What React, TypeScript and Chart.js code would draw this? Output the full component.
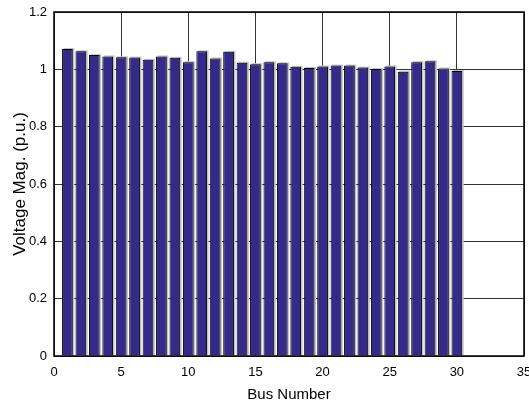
import React, { useEffect, useRef } from "react";
import { Chart, registerables } from "chart.js";

Chart.register(...registerables);

// Bus numbers and per-unit voltage magnitudes
const busNumbers = [
  1, 2, 3, 4, 5, 6, 7, 8, 9, 10, 11, 12, 13, 14, 15,
  16, 17, 18, 19, 20, 21, 22, 23, 24, 25, 26, 27, 28, 29, 30,
];
const voltageMag = [
  1.071, 1.063, 1.05, 1.045, 1.042, 1.041, 1.033, 1.045, 1.04, 1.025,
  1.063, 1.038, 1.061, 1.023, 1.018, 1.025, 1.021, 1.009, 1.005, 1.01,
  1.013, 1.013, 1.006, 1.001, 1.01, 0.992, 1.025, 1.028, 1.003, 0.994,
];
const xTicks = [0, 5, 10, 15, 20, 25, 30, 35];
const yTicks = [0, 0.2, 0.4, 0.6, 0.8, 1, 1.2];

const FONT = "'Liberation Sans', Arial, sans-serif";

// Light grey offset behind each bar, and a black frame round the plot box
const barShadow = {
  id: "barShadow",
  beforeDatasetsDraw(chart: any) {
    const ctx = chart.ctx;
    const meta = chart.getDatasetMeta(0);
    ctx.save();
    ctx.fillStyle = "#c4c4c4";
    meta.data.forEach((bar: any) => {
      const { x, y, width, base } = bar.getProps(["x", "y", "width", "base"], true);
      ctx.fillRect(x - width / 2 + 1.5, y - 1, width, base - y + 1);
    });
    ctx.restore();
  },
  afterDraw(chart: any) {
    const { left, right, top, bottom } = chart.chartArea;
    const ctx = chart.ctx;
    ctx.save();
    ctx.strokeStyle = "#000";
    ctx.lineWidth = 1.5;
    ctx.strokeRect(left, top, right - left, bottom - top);
    ctx.restore();
  },
};

export default function App() {
  const canvasRef = useRef<HTMLCanvasElement | null>(null);

  useEffect(() => {
    document.body.style.margin = "0";
    const canvas = canvasRef.current;
    if (!canvas) return;
    const chart = new Chart(canvas, {
      type: "bar",
      data: {
        datasets: [
          {
            data: busNumbers.map((b, i) => ({ x: b, y: voltageMag[i] })),
            backgroundColor: "#35298a",
            borderColor: "#000000",
            borderWidth: 1,
            barPercentage: 0.8,
            categoryPercentage: 1,
          },
        ],
      },
      options: {
        animation: false,
        responsive: false,
        maintainAspectRatio: false,
        layout: { padding: { top: 12, right: 5, left: 0, bottom: 0 } },
        plugins: { legend: { display: false }, tooltip: { enabled: false } },
        scales: {
          x: {
            type: "linear",
            min: 0,
            max: 35,
            offset: false,
            afterBuildTicks(scale: any) {
              scale.ticks = xTicks.map((v) => ({ value: v }));
            },
            afterFit(scale: any) {
              scale.height = 48;
              scale.paddingLeft = 0;
              scale.paddingRight = 0;
            },
            grid: { color: "#333333", lineWidth: 1, drawTicks: false, offset: false },
            border: { display: false },
            ticks: {
              padding: 9,
              color: "#000",
              font: { family: FONT, size: 13 },
              maxRotation: 0,
              autoSkip: false,
            },
            title: {
              display: true,
              text: "Bus Number",
              color: "#000",
              font: { family: FONT, size: 15 },
              padding: { top: 0, bottom: 0 },
            },
          },
          y: {
            min: 0,
            max: 1.2,
            afterBuildTicks(scale: any) {
              scale.ticks = yTicks.map((v) => ({ value: v }));
            },
            afterFit(scale: any) {
              scale.width = 54;
              scale.paddingTop = 0;
              scale.paddingBottom = 0;
            },
            grid: { color: "#333333", lineWidth: 1, drawTicks: false },
            border: { display: false },
            ticks: {
              padding: 7,
              color: "#000",
              font: { family: FONT, size: 13 },
              callback: (v: any) => String(Math.round(Number(v) * 10) / 10),
            },
            title: {
              display: true,
              text: "Voltage Mag. (p.u.)",
              color: "#000",
              font: { family: FONT, size: 17 },
              padding: { top: 10, bottom: 0 },
            },
          },
        },
      },
      plugins: [barShadow],
    });
    return () => chart.destroy();
  }, []);

  return (
    <div style={{ width: 529, height: 404 }}>
      <canvas ref={canvasRef} width={529} height={404} style={{ display: "block" }} />
    </div>
  );
}
